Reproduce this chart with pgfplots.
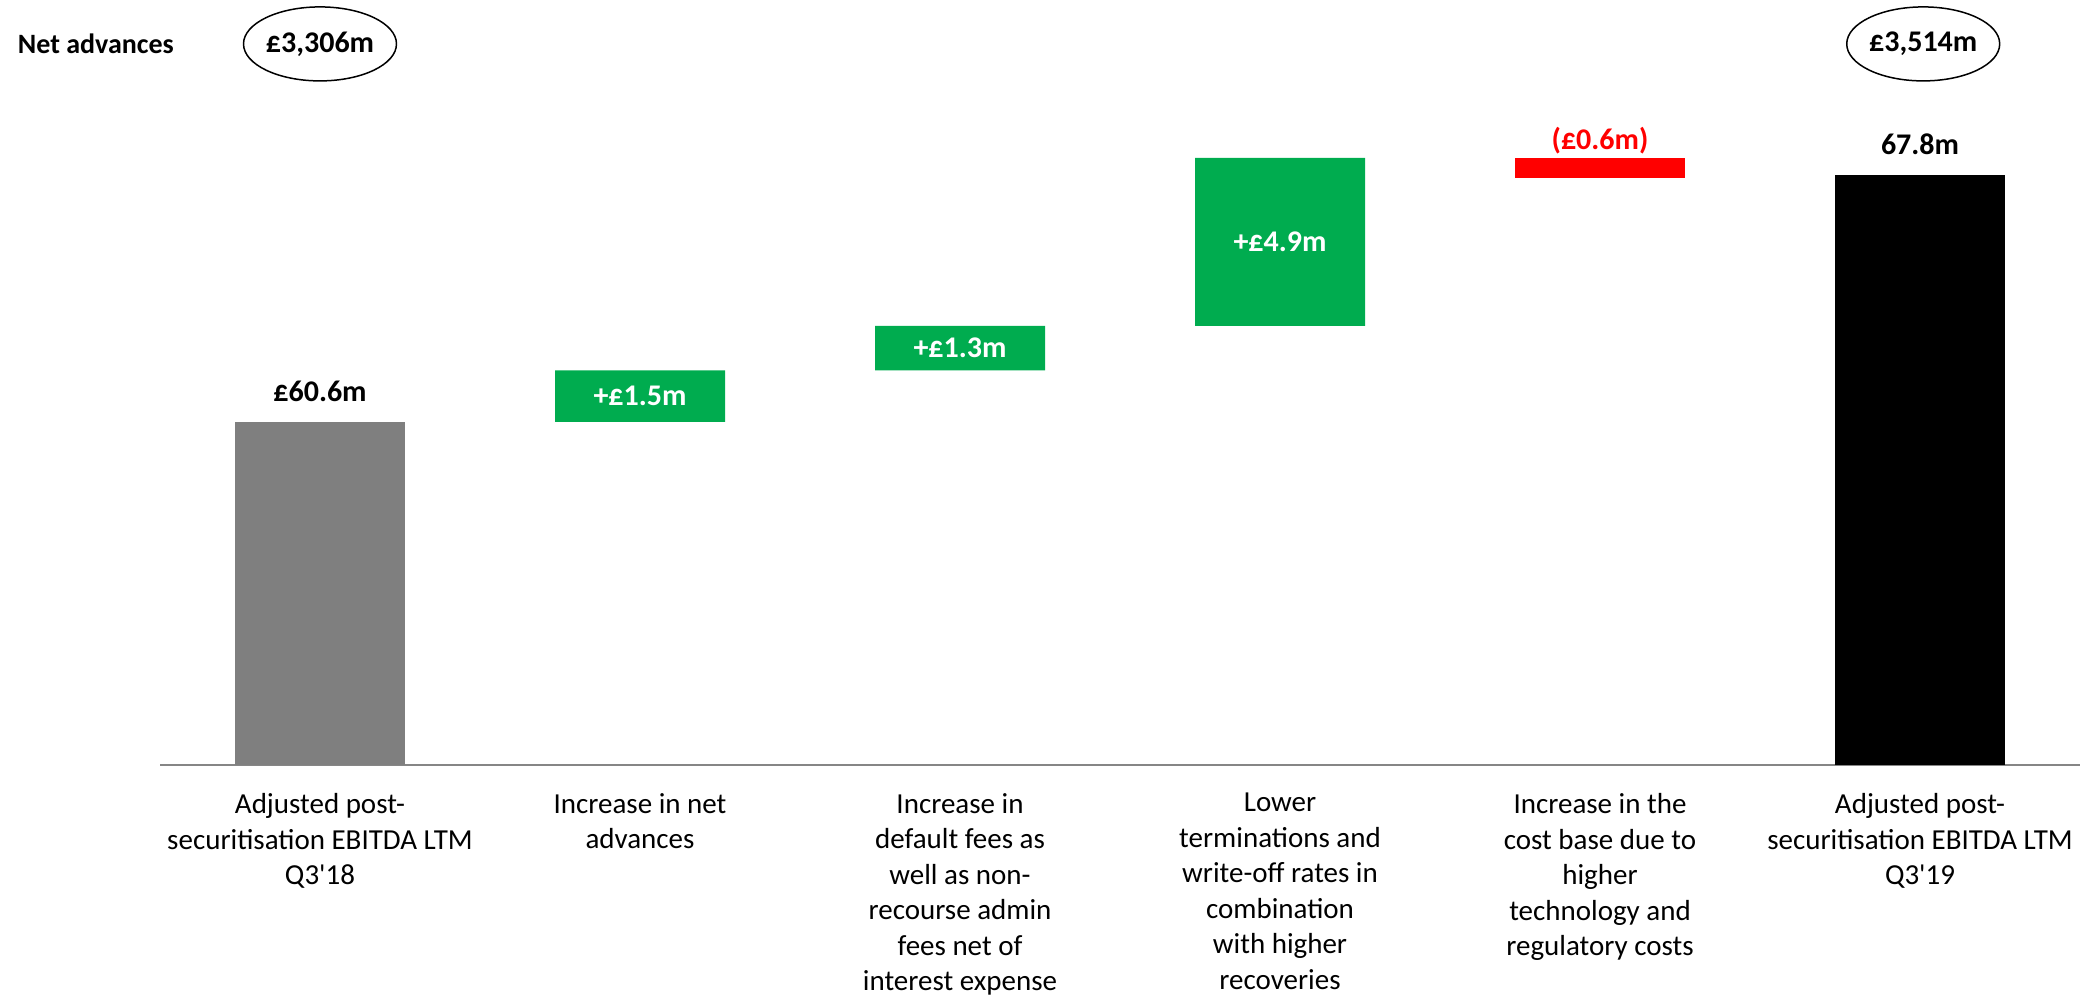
\documentclass[border=0pt]{standalone}
\usepackage{fontspec}
\setmainfont{Carlito}
\usepackage{pgfplots}
\pgfplotsset{compat=1.18}
\usetikzlibrary{shapes.geometric}
\definecolor{bargray}{HTML}{7F7F7F}
\definecolor{bargreen}{HTML}{00AC4F}
\definecolor{barred}{HTML}{FF0000}
\definecolor{axisgray}{HTML}{868686}
\begin{document}
\begin{tikzpicture}
\newcommand{\lf}{\fontsize{14.5}{17.75}\selectfont}
\newcommand{\vf}{\fontsize{15}{18}\selectfont\bfseries}
\begin{axis}[
  name=ax,
  scale only axis,
  width=960pt, height=382.5pt,
  xmin=-0.5, xmax=5.5,
  ymin=50.6, ymax=72.9,
  ybar stacked,
  bar width=85pt,
  clip mode=individual,
  axis y line=none,
  axis x line*=bottom,
  x axis line style={draw=axisgray, line width=1.1pt, -},
  xtick={0,1,2,3,4,5},
  major tick length=0pt,
  xticklabels={
    {Adjusted post-\\securitisation EBITDA LTM\\Q3\textquotesingle 18},
    {Increase in net\\advances},
    {Increase in\\default fees as\\well as non-\\recourse admin\\fees net of\\interest expense},
    {Lower\\terminations and\\write-off rates in\\combination\\with higher\\recoveries},
    {Increase in the\\cost base due to\\higher\\technology and\\regulatory costs},
    {Adjusted post-\\securitisation EBITDA LTM\\Q3\textquotesingle 19}
  },
  xticklabel style={align=center, anchor=north, inner sep=0pt, yshift=-14pt, font=\lf, text=black},
]
% invisible base
\addplot[draw=none, fill=none] coordinates {(0,0) (1,60.6) (2,62.1) (3,63.4) (4,67.7) (5,0)};
% start bar
\addplot[draw=none, fill=bargray] coordinates {(0,60.6) (1,0) (2,0) (3,0) (4,0) (5,0)};
% increases
\addplot[draw=none, fill=bargreen] coordinates {(0,0) (1,1.5) (2,1.3) (3,4.9) (4,0) (5,0)};
% decrease
\addplot[draw=none, fill=barred] coordinates {(0,0) (1,0) (2,0) (3,0) (4,0.6) (5,0)};
% end bar
\addplot[draw=none, fill=black] coordinates {(0,0) (1,0) (2,0) (3,0) (4,0) (5,67.8)};

% label anchor points
\coordinate (L0) at (axis cs:0,60.6);
\coordinate (L1) at (axis cs:1,61.35);
\coordinate (L2) at (axis cs:2,62.75);
\coordinate (L3) at (axis cs:3,65.85);
\coordinate (L4) at (axis cs:4,68.3);
\coordinate (L5) at (axis cs:5,67.8);
\coordinate (NA) at (axis cs:-0.966,71.62);
\coordinate (E0) at (axis cs:0,71.62);
\coordinate (E5) at (axis cs:5.01,71.62);
\end{axis}
\node[anchor=base, font=\vf, yshift=10pt] at (L0) {£60.6m};
\node[anchor=center, font=\vf, text=white] at (L1) {+£1.5m};
\node[anchor=center, font=\vf, text=white] at (L2) {+£1.3m};
\node[anchor=center, font=\vf, text=white] at (L3) {+£4.9m};
\node[anchor=base, font=\vf, text=barred, yshift=4pt] at (L4) {(£0.6m)};
\node[anchor=base, font=\vf, yshift=10pt] at (L5) {67.8m};
\node[anchor=west, font=\fontsize{14}{17}\selectfont\bfseries] at (NA) {Net advances};
\node[draw, ellipse, line width=0.75pt, minimum width=76pt, minimum height=37pt, inner sep=0pt, font=\vf] at (E0) {£3,306m};
\node[draw, ellipse, line width=0.75pt, minimum width=76pt, minimum height=37pt, inner sep=0pt, font=\vf] at (E5) {£3,514m};
\path[use as bounding box] ([xshift=-80pt,yshift=-115.5pt]ax.south west) rectangle ([xshift=6.5pt]ax.north east);
\end{tikzpicture}
\end{document}
